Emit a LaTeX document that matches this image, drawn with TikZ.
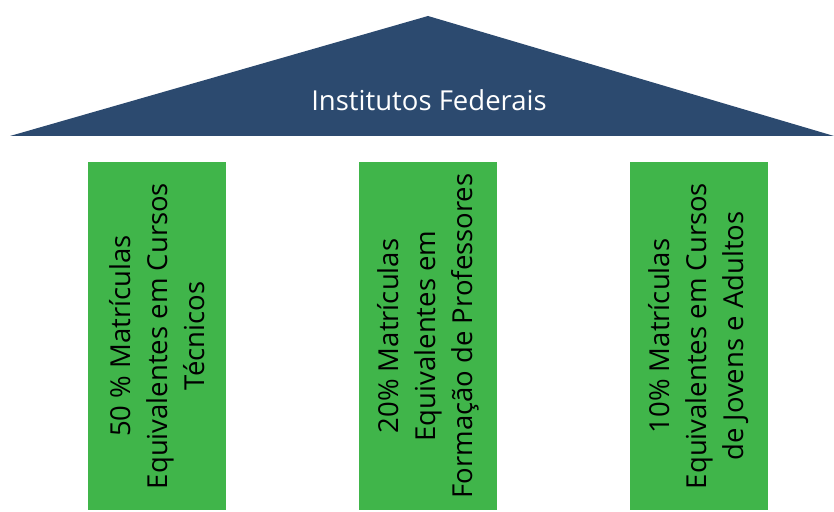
\documentclass[tikz,border=0pt]{standalone}
\usepackage{fontspec}
\setmainfont{Open Sans}
\usepackage{tikz}
\usetikzlibrary{positioning}
\definecolor{roofblue}{RGB}{44,74,111}
\definecolor{pillargreen}{RGB}{64,181,74}
\tikzset{
  pillar/.style={rotate=90, fill=pillargreen, minimum width=348pt, minimum height=138pt,
    align=center, inner sep=0pt, font=\fontsize{27.5}{37}\selectfont, text=black},
  roof/.style={text=white, font=\fontsize{27.5}{30}\selectfont}
}

\begin{document}
\begin{tikzpicture}[x=1pt, y=1pt]

  \useasboundingbox (0,0) rectangle (834,511);

  % roof
  \coordinate (L) at (10,375);
  \coordinate (R) at (834,375);
  \coordinate (T) at (428,495);
  \fill[roofblue] (L) -- (T) -- (R) -- cycle;
  \node[roof] (title) at (429,411) {Institutos Federais};

  % pillars
  \node[pillar] (tec) at (157,175) {50 \% Matrículas\\Equivalentes em Cursos\\Técnicos};
  \node[pillar] (prof) at (428,175) {20\% Matrículas\\Equivalentes em\\Formação de Professores};
  \node[pillar] (eja) at (699,175) {10\% Matrículas\\Equivalentes em Cursos\\de Jovens e Adultos};

\end{tikzpicture}
\end{document}
